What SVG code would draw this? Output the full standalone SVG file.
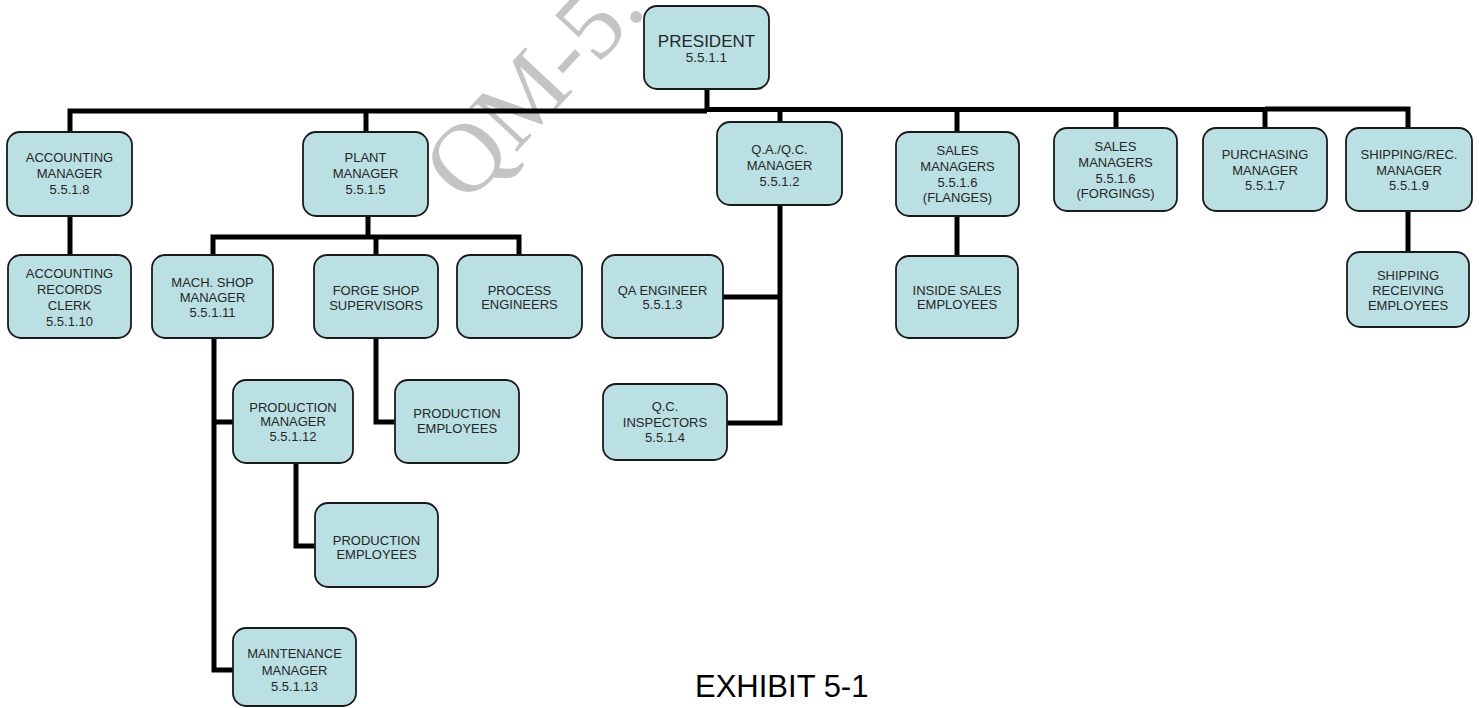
<svg xmlns="http://www.w3.org/2000/svg" width="1479" height="708" viewBox="0 0 1479 708">
<style>
.box{fill:#bbe0e3;stroke:#1a1a1a;stroke-width:1.8}
.t{font-family:"Liberation Sans",Arial,sans-serif;font-size:13px;fill:#262626;text-anchor:middle}
.c{fill:none;stroke:#000;stroke-width:5;stroke-linejoin:miter;stroke-linecap:butt}
.wm{font-family:"Liberation Serif","Times New Roman",serif;font-size:99px;fill:#c4c4c4}
</style>
<rect width="1479" height="708" fill="#fff"/>
<text class="wm" transform="translate(466,206) rotate(-47)">QM-5.</text>
<g id="connectors">
<path class="c" d="M70,132 V111 H707" stroke-width="6"/>
<path class="c" d="M707,89 V111" stroke-width="6"/>
<path class="c" d="M705,109.5 H1267" stroke-width="9"/>
<path class="c" d="M1265,109 H1408 V128"/>
<path class="c" d="M366,111 V132"/>
<path class="c" d="M780,110 V122"/>
<path class="c" d="M957,110 V132"/>
<path class="c" d="M1116,110 V128"/>
<path class="c" d="M1265,110 V128"/>
<path class="c" d="M70,216 V255" stroke-width="6"/>
<path class="c" d="M368,216 V237"/>
<path class="c" d="M213,255 V237 H519 V255"/>
<path class="c" d="M376,237 V255"/>
<path class="c" d="M214,338 V670 H233"/>
<path class="c" d="M214,422 H233"/>
<path class="c" d="M376,338 V422 H395"/>
<path class="c" d="M296,463 V546 H315"/>
<path class="c" d="M780,205 V423 H727"/>
<path class="c" d="M723,297 H780"/>
<path class="c" d="M957,216 V256"/>
<path class="c" d="M1408,211 V252"/>
</g>
<g id="president"><rect class="box" x="644" y="6" width="125" height="83" rx="13"/>
<text class="t" x="706.5" y="47" style="font-size:17px">PRESIDENT</text><text class="t" x="706.5" y="62" style="font-size:13.5px">5.5.1.1</text></g>
<g id="accounting-manager"><rect class="box" x="7" y="132" width="125" height="84" rx="13"/>
<text class="t" x="69.5" y="162">ACCOUNTING</text><text class="t" x="69.5" y="178">MANAGER</text><text class="t" x="69.5" y="194">5.5.1.8</text></g>
<g id="accounting-clerk"><rect class="box" x="8" y="255" width="123" height="83" rx="13"/>
<text class="t" x="69.5" y="278">ACCOUNTING</text><text class="t" x="69.5" y="294">RECORDS</text><text class="t" x="69.5" y="310">CLERK</text><text class="t" x="69.5" y="326">5.5.1.10</text></g>
<g id="plant-manager"><rect class="box" x="303" y="132" width="125" height="84" rx="13"/>
<text class="t" x="365.5" y="162">PLANT</text><text class="t" x="365.5" y="178">MANAGER</text><text class="t" x="365.5" y="194">5.5.1.5</text></g>
<g id="qaqc-manager"><rect class="box" x="717" y="122" width="125" height="83" rx="13"/>
<text class="t" x="779.5" y="154">Q.A./Q.C.</text><text class="t" x="779.5" y="170">MANAGER</text><text class="t" x="779.5" y="186">5.5.1.2</text></g>
<g id="sales-flanges"><rect class="box" x="896" y="132" width="123" height="84" rx="13"/>
<text class="t" x="957.5" y="155">SALES</text><text class="t" x="957.5" y="171">MANAGERS</text><text class="t" x="957.5" y="187">5.5.1.6</text><text class="t" x="957.5" y="202">(FLANGES)</text></g>
<g id="sales-forgings"><rect class="box" x="1054" y="128" width="123" height="83" rx="13"/>
<text class="t" x="1115.5" y="151">SALES</text><text class="t" x="1115.5" y="167">MANAGERS</text><text class="t" x="1115.5" y="183">5.5.1.6</text><text class="t" x="1115.5" y="198">(FORGINGS)</text></g>
<g id="purchasing"><rect class="box" x="1203" y="128" width="124" height="83" rx="13"/>
<text class="t" x="1265" y="159">PURCHASING</text><text class="t" x="1265" y="175">MANAGER</text><text class="t" x="1265" y="190">5.5.1.7</text></g>
<g id="shipping-manager"><rect class="box" x="1346" y="128" width="126" height="83" rx="13"/>
<text class="t" x="1409" y="159">SHIPPING/REC.</text><text class="t" x="1409" y="175">MANAGER</text><text class="t" x="1409" y="190">5.5.1.9</text></g>
<g id="shipping-employees"><rect class="box" x="1347" y="252" width="122" height="75" rx="13"/>
<text class="t" x="1408" y="280">SHIPPING</text><text class="t" x="1408" y="295">RECEIVING</text><text class="t" x="1408" y="310">EMPLOYEES</text></g>
<g id="inside-sales"><rect class="box" x="896" y="256" width="122" height="82" rx="13"/>
<text class="t" x="957" y="295">INSIDE SALES</text><text class="t" x="957" y="309">EMPLOYEES</text></g>
<g id="mach-shop"><rect class="box" x="152" y="255" width="121" height="83" rx="13"/>
<text class="t" x="212.5" y="287">MACH. SHOP</text><text class="t" x="212.5" y="302">MANAGER</text><text class="t" x="212.5" y="317">5.5.1.11</text></g>
<g id="forge-shop"><rect class="box" x="314" y="255" width="124" height="83" rx="13"/>
<text class="t" x="376" y="295">FORGE SHOP</text><text class="t" x="376" y="310">SUPERVISORS</text></g>
<g id="process-engineers"><rect class="box" x="457" y="255" width="125" height="83" rx="13"/>
<text class="t" x="519.5" y="295">PROCESS</text><text class="t" x="519.5" y="309">ENGINEERS</text></g>
<g id="production-manager"><rect class="box" x="233" y="380" width="120" height="83" rx="13"/>
<text class="t" x="293" y="412">PRODUCTION</text><text class="t" x="293" y="426">MANAGER</text><text class="t" x="293" y="441">5.5.1.12</text></g>
<g id="production-employees-forge"><rect class="box" x="395" y="380" width="124" height="83" rx="13"/>
<text class="t" x="457" y="418">PRODUCTION</text><text class="t" x="457" y="433">EMPLOYEES</text></g>
<g id="production-employees-mach"><rect class="box" x="315" y="503" width="123" height="84" rx="13"/>
<text class="t" x="376.5" y="545">PRODUCTION</text><text class="t" x="376.5" y="559">EMPLOYEES</text></g>
<g id="maintenance-manager"><rect class="box" x="233" y="628" width="123" height="78" rx="13"/>
<text class="t" x="294.5" y="658">MAINTENANCE</text><text class="t" x="294.5" y="675">MANAGER</text><text class="t" x="294.5" y="691">5.5.1.13</text></g>
<g id="qa-engineer"><rect class="box" x="602" y="255" width="121" height="83" rx="13"/>
<text class="t" x="662.5" y="295">QA ENGINEER</text><text class="t" x="662.5" y="309">5.5.1.3</text></g>
<g id="qc-inspectors"><rect class="box" x="603" y="384" width="124" height="76" rx="13"/>
<text class="t" x="665" y="411">Q.C.</text><text class="t" x="665" y="427">INSPECTORS</text><text class="t" x="665" y="442">5.5.1.4</text></g>
<text x="695" y="697" style="font-family:'Liberation Sans',Arial,sans-serif;font-size:31px;fill:#000">EXHIBIT 5-1</text>
</svg>
